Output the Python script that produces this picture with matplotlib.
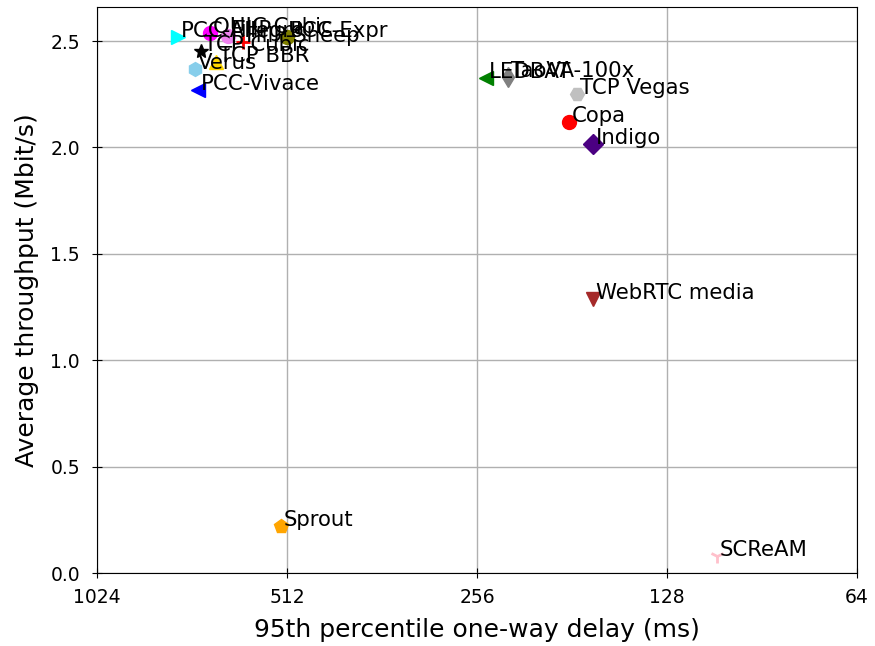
import matplotlib
matplotlib.use('Agg')
import matplotlib.pyplot as plt
from matplotlib.ticker import FixedLocator, FixedFormatter, NullLocator

# scheme, delay (ms), throughput (Mbit/s)
schemes = ['PCC-Allegro', 'QUIC Cubic', 'FillP', 'FillP-Sheep', 'PCC-Expr',
           'TCP Cubic', 'TCP BBR', 'Verus', 'PCC-Vivace', 'LEDBAT',
           'TaoVA-100x', 'TCP Vegas', 'Copa', 'Indigo', 'WebRTC media',
           'Sprout', 'SCReAM']
delays = [762, 678, 635, 601, 512,
          701, 663, 716, 708, 247.8,
          228.6, 177.7, 183.0, 167.7, 167.7,
          523, 106.7]
tputs = [2.519, 2.538, 2.523, 2.495, 2.519,
         2.453, 2.401, 2.368, 2.270, 2.326,
         2.331, 2.251, 2.119, 2.016, 1.288,
         0.221, 0.080]
colors = ['cyan', 'magenta', 'violet', 'red', 'olive',
          'black', 'gold', 'skyblue', 'blue', 'green',
          'gray', 'silver', 'red', 'indigo', 'brown',
          'orange', 'pink']
markers = ['>', 'o', 'o', '+', 'o',
           '*', '^', 'h', '<', '<',
           'd', 'H', 'o', 'D', 'v',
           'p', '1']

xticks = [1024, 512, 256, 128, 64]
yticks = [0.0, 0.5, 1.0, 1.5, 2.0, 2.5]

fig = plt.figure(figsize=(8.75, 6.46), dpi=100)
ax = fig.add_axes([0.1109, 0.1130, 0.8685, 0.8762])

for name, d, t, c, m in zip(schemes, delays, tputs, colors, markers):
    ax.plot(d, t, marker=m, color=c, markersize=10, markeredgewidth=2 if m in '+1' else 1,
            linestyle='none', zorder=3)
    ax.annotate(name, (d, t), xytext=(2, 0), textcoords='offset points',
                fontsize=15.3, zorder=4)

ax.set_xscale('log', base=2)
ax.set_xlim(1024, 64)
ax.set_ylim(0, 2.66)
ax.xaxis.set_major_locator(FixedLocator(xticks))
ax.xaxis.set_major_formatter(FixedFormatter([str(v) for v in xticks]))
ax.xaxis.set_minor_locator(NullLocator())
ax.set_yticks(yticks)
ax.tick_params(labelsize=13.5, direction='inout', length=7)
ax.tick_params(axis='x', pad=7.3)
ax.tick_params(axis='y', pad=8.7)
ax.grid(True, color='#b0b0b0', linewidth=1)
ax.set_axisbelow(True)
ax.set_xlabel('95th percentile one-way delay (ms)', fontsize=18, labelpad=8)
ax.set_ylabel('Average throughput (Mbit/s)', fontsize=18, labelpad=8)

fig.savefig('out.png', dpi=100)
